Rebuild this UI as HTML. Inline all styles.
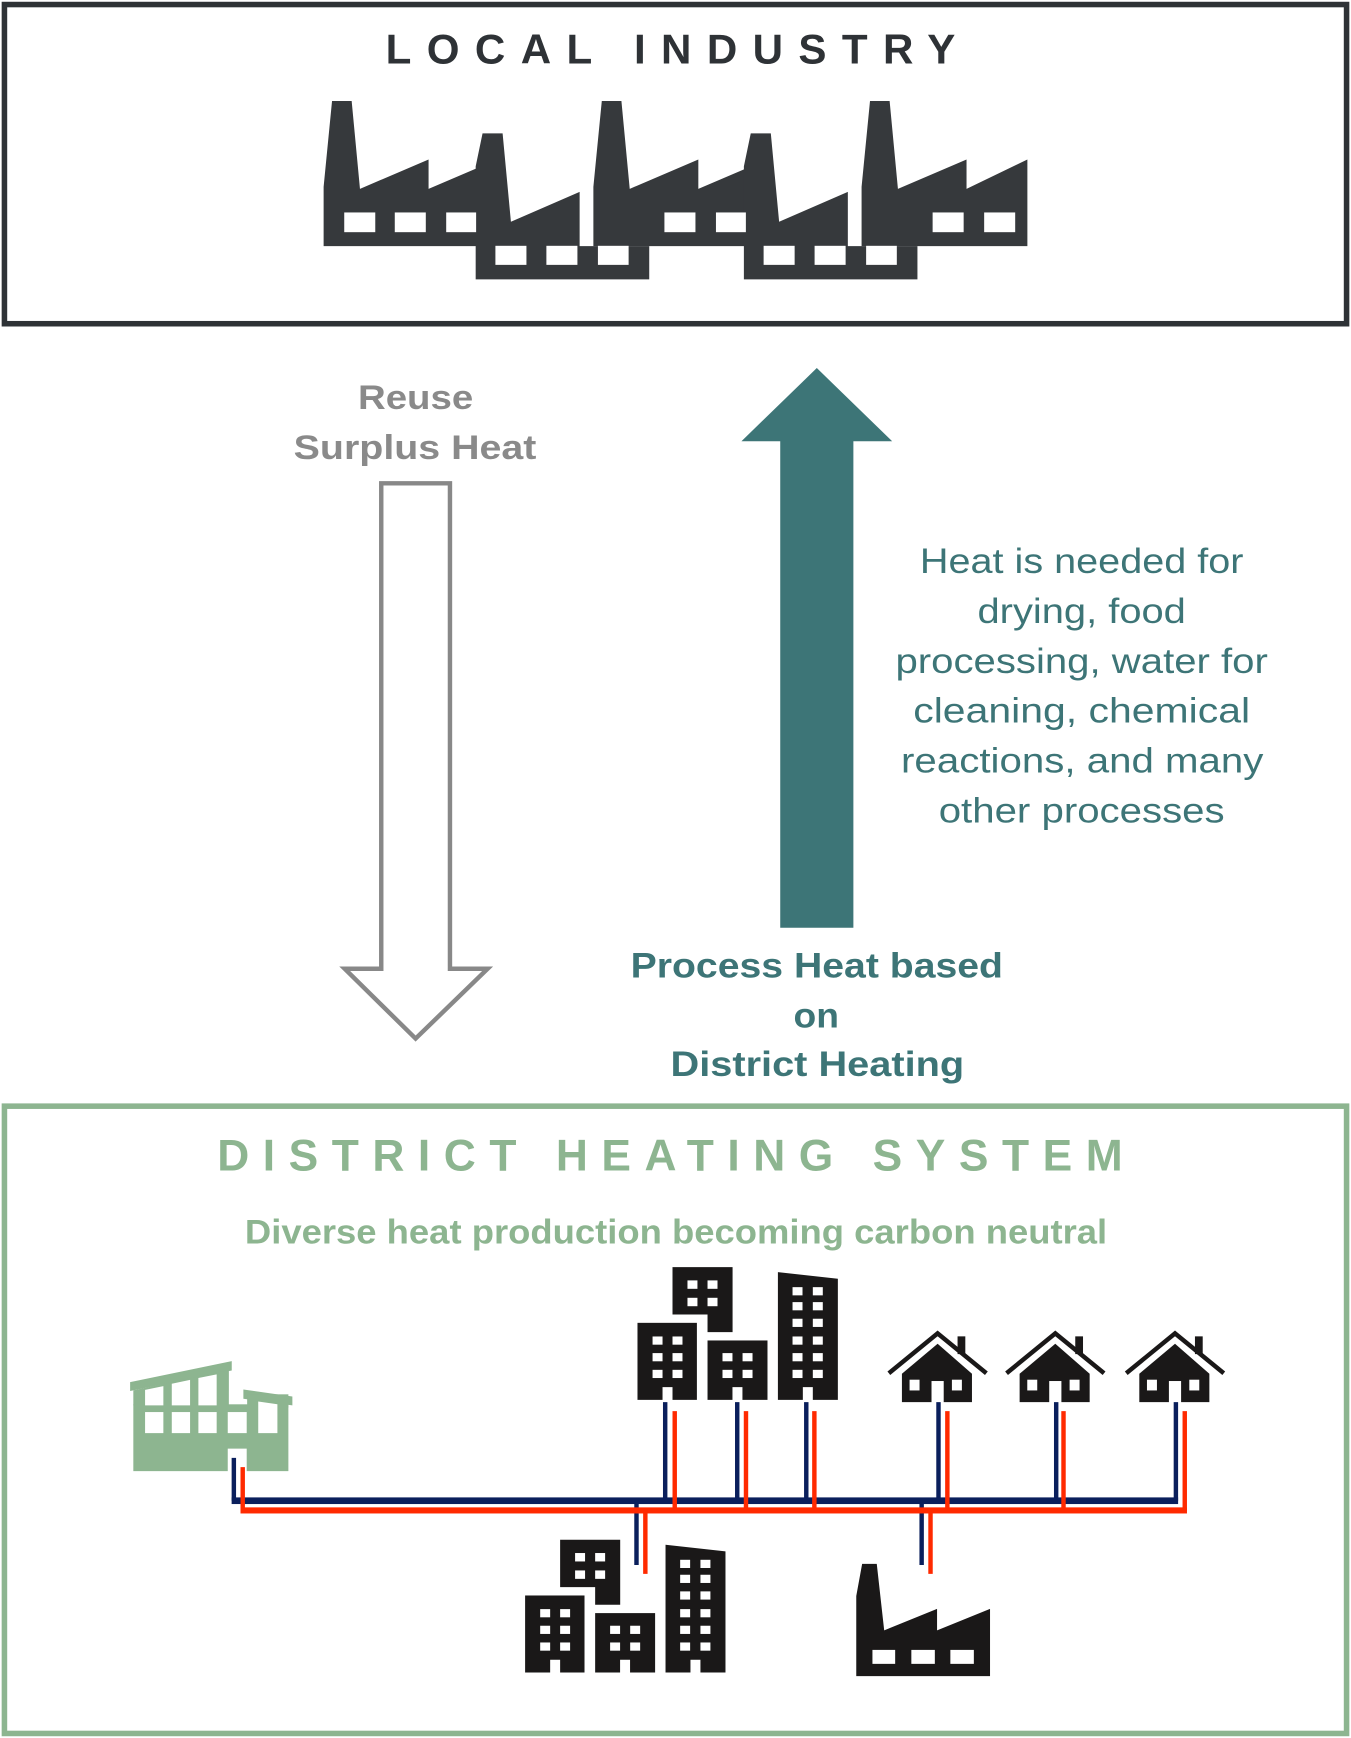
<!DOCTYPE html>
<html><head><meta charset="utf-8"><style>
html,body{margin:0;padding:0;background:#fff;}
svg{display:block;}
text{font-family:"Liberation Sans",sans-serif;}
</style></head><body>
<svg width="1351" height="1738" viewBox="0 0 1219 1568" xmlns="http://www.w3.org/2000/svg">
<rect x="0" y="0" width="1219" height="1568" fill="#fff"/>
<!-- top box -->
<rect x="4" y="4" width="1211" height="288" fill="none" stroke="#2e3236" stroke-width="5"/>
<text x="348" y="57" font-size="38" font-weight="bold" fill="#2e3236" textLength="514" lengthAdjust="spacing">LOCAL INDUSTRY</text>
<!-- factories -->
<g fill="#36393c">
<polygon points="292,222 292,168.5 299.6,91 317.3,91 324.8,170.3 386.7,143.8 386.7,170.3 448.7,143.8 448.7,222"/>
<polygon points="535.4,222 535.4,168.5 543,91 560.7,91 568.2,170.3 630.1,143.8 630.1,170.3 692.1,143.8 692.1,222"/>
<polygon points="777.4,222 777.4,168.5 785,91 802.7,91 810.2,170.3 872.1,143.8 872.1,170.3 927,143.8 927,222"/>
<polygon points="429.2,252 429.2,150 435.4,120.3 453.5,120.3 461,200 523,173 523,222 585.8,222 585.8,252"/>
<polygon points="671.2,252 671.2,150 677.4,120.3 695.5,120.3 703,200 765,173 765,222 827.8,222 827.8,252"/>
</g>
<g fill="#fff">
<rect x="310.6" y="191.6" width="28" height="17.8"/><rect x="356.2" y="191.6" width="28" height="17.8"/><rect x="402.6" y="191.6" width="27" height="17.8"/>
<rect x="599.5" y="191.6" width="28" height="17.8"/><rect x="646" y="191.6" width="27" height="17.8"/>
<rect x="841.5" y="191.6" width="28" height="17.8"/><rect x="888" y="191.6" width="28" height="17.8"/>
<rect x="447" y="221.7" width="28" height="17.2"/><rect x="493" y="221.7" width="28" height="17.2"/><rect x="539.5" y="221.7" width="27.7" height="17.2"/>
<rect x="689" y="221.7" width="28" height="17.2"/><rect x="735" y="221.7" width="28" height="17.2"/><rect x="781.5" y="221.7" width="27.7" height="17.2"/>
</g>
<!-- gray arrow -->
<text x="323" y="369" font-size="31" font-weight="bold" fill="#8a8a8a" textLength="104" lengthAdjust="spacingAndGlyphs">Reuse</text>
<text x="265" y="414" font-size="31" font-weight="bold" fill="#8a8a8a" textLength="219" lengthAdjust="spacingAndGlyphs">Surplus Heat</text>
<polygon points="344,436 406,436 406,874 440,874 375,937 311,874 344,874" fill="#fff" stroke="#888" stroke-width="4"/>
<!-- teal arrow -->
<polygon points="704,837 770,837 770,398 805,398 737,332 669,398 704,398" fill="#3d7577"/>
<g font-size="32" fill="#3d7577" lengthAdjust="spacingAndGlyphs">
<text x="830" y="517" textLength="292" lengthAdjust="spacingAndGlyphs">Heat is needed for</text>
<text x="882" y="562" textLength="188" lengthAdjust="spacingAndGlyphs">drying, food</text>
<text x="808" y="607" textLength="336" lengthAdjust="spacingAndGlyphs">processing, water for</text>
<text x="824" y="652" textLength="304" lengthAdjust="spacingAndGlyphs">cleaning, chemical</text>
<text x="813" y="697" textLength="327" lengthAdjust="spacingAndGlyphs">reactions, and many</text>
<text x="847" y="742" textLength="258" lengthAdjust="spacingAndGlyphs">other processes</text>
</g>
<g font-size="32" font-weight="bold" fill="#3d7577">
<text x="569" y="882" textLength="336" lengthAdjust="spacingAndGlyphs">Process Heat based</text>
<text x="716" y="927" textLength="41" lengthAdjust="spacingAndGlyphs">on</text>
<text x="605" y="971" textLength="265" lengthAdjust="spacingAndGlyphs">District Heating</text>
</g>
<!-- bottom box -->
<rect x="4" y="998" width="1211" height="566" fill="none" stroke="#8db590" stroke-width="5"/>
<text x="196" y="1056" font-size="40" font-weight="bold" fill="#8db590" textLength="817" lengthAdjust="spacing">DISTRICT HEATING SYSTEM</text>
<text x="610" y="1122" font-size="31" font-weight="bold" fill="#8db590" text-anchor="middle" textLength="778" lengthAdjust="spacingAndGlyphs">Diverse heat production becoming carbon neutral</text>
<!-- green plant -->
<g fill="#8db590">
<polygon points="117.4,1247 209.1,1228 209.1,1236.5 117.4,1255"/>
<polygon points="120.3,1254.4 206.5,1236 206.5,1268 120.3,1268"/>
<polygon points="219.6,1253.6 263.8,1260 263.8,1268 219.6,1262"/>
<rect x="223" y="1258" width="37.2" height="12"/>
<rect x="120.3" y="1267" width="139.9" height="60.3"/>
</g>
<g fill="#fff">
<polygon points="130.9,1254 147.4,1250.6 147.4,1268 130.9,1268"/>
<polygon points="155,1248.4 171.5,1245 171.5,1268 155,1268"/>
<polygon points="179,1243.3 195.5,1240 195.5,1268 179,1268"/>
<rect x="130.9" y="1274" width="16.5" height="19"/><rect x="155" y="1274" width="16.5" height="19"/>
<rect x="179" y="1274" width="16.5" height="19"/><rect x="205.5" y="1274" width="17.1" height="19"/>
<polygon points="233,1264.5 250.3,1267 250.3,1293 233,1293"/>
<rect x="205.5" y="1307" width="17.1" height="21"/>
</g>
<!-- buildings group -->
<g id="bld" fill="#1a1818">
<polygon points="606.8,1143.2 661,1143.2 661,1201.9 638.4,1201.9 638.4,1186 606.8,1186"/>
<rect x="575.2" y="1193.5" width="53.6" height="69.5"/>
<rect x="638.4" y="1209.4" width="54.1" height="53.6"/>
<polygon points="701.9,1147.7 756,1153.7 756,1263 701.9,1263"/>
<g fill="#fff">
<rect x="620.3" y="1155.2" width="9" height="7.6"/><rect x="638.4" y="1155.2" width="9" height="7.6"/>
<rect x="620.3" y="1170.9" width="9" height="7.6"/><rect x="638.4" y="1170.9" width="9" height="7.6"/>
<rect x="588.8" y="1205.8" width="9" height="7.4"/><rect x="606.8" y="1205.8" width="9" height="7.4"/>
<rect x="588.8" y="1220.8" width="9" height="7.4"/><rect x="606.8" y="1220.8" width="9" height="7.4"/>
<rect x="588.8" y="1235.9" width="9" height="7.4"/><rect x="606.8" y="1235.9" width="9" height="7.4"/>
<rect x="597.8" y="1251.5" width="9" height="12"/>
<rect x="651.9" y="1220.8" width="9" height="7.4"/><rect x="670" y="1220.8" width="9" height="7.4"/>
<rect x="651.9" y="1235.9" width="9" height="7.4"/><rect x="670" y="1235.9" width="9" height="7.4"/>
<rect x="660.9" y="1251.5" width="9" height="12"/>
<rect x="715.1" y="1161.3" width="9" height="7.4"/><rect x="733.4" y="1161.3" width="9" height="7.4"/>
<rect x="715.1" y="1174.8" width="9" height="7.4"/><rect x="733.4" y="1174.8" width="9" height="7.4"/>
<rect x="715.1" y="1189.8" width="9" height="7.4"/><rect x="733.4" y="1189.8" width="9" height="7.4"/>
<rect x="715.1" y="1205.8" width="9" height="7.4"/><rect x="733.4" y="1205.8" width="9" height="7.4"/>
<rect x="715.1" y="1220.8" width="9" height="7.4"/><rect x="733.4" y="1220.8" width="9" height="7.4"/>
<rect x="715.1" y="1235.9" width="9" height="7.4"/><rect x="733.4" y="1235.9" width="9" height="7.4"/>
<rect x="724.4" y="1251.5" width="9" height="12"/>
</g>
</g>
<g transform="translate(-101.4,246)">
<use href="#bld"/>
</g>
<!-- houses -->
<g id="house">
<polyline points="802,1239 846,1203 890,1239" fill="none" stroke="#1a1818" stroke-width="4"/>
<rect x="864" y="1205.7" width="7" height="16" fill="#1a1818"/>
<polygon points="846,1212.4 877,1239.4 877,1265 813.8,1265 813.8,1239.4" fill="#1a1818"/>
<rect x="820.7" y="1244.8" width="9" height="9.7" fill="#fff"/>
<rect x="858.9" y="1244.8" width="9" height="9.7" fill="#fff"/>
<rect x="840.5" y="1246" width="11" height="20" fill="#fff"/>
</g>
<use href="#house" transform="translate(106.2,0)"/>
<use href="#house" transform="translate(214.2,0)"/>
<!-- small factory -->
<polygon points="772.6,1512.3 772.6,1440 777.9,1411 791.1,1411 797.8,1471 845.5,1451.6 845.5,1471 893.3,1451.6 893.3,1512.3" fill="#1a1818"/>
<g fill="#fff">
<rect x="787.2" y="1488.6" width="20.5" height="12.6"/><rect x="822.3" y="1488.6" width="21.2" height="12.6"/><rect x="857.5" y="1488.6" width="21.2" height="12.6"/>
</g>
<!-- pipes -->
<g stroke="#0a1f5c" stroke-width="4" fill="none">
<line x1="211" y1="1315.3" x2="211" y2="1354"/>
<line x1="600.2" y1="1265" x2="600.2" y2="1354"/>
<line x1="665.2" y1="1265" x2="665.2" y2="1354"/>
<line x1="727.5" y1="1265" x2="727.5" y2="1354"/>
<line x1="846.8" y1="1265" x2="846.8" y2="1354"/>
<line x1="953" y1="1265" x2="953" y2="1354"/>
<line x1="1061" y1="1265" x2="1061" y2="1354"/>
<line x1="574.3" y1="1354" x2="574.3" y2="1412"/>
<line x1="831.6" y1="1354" x2="831.6" y2="1412"/>
</g>
<rect x="209" y="1351" width="854" height="6" fill="#0a1f5c"/>
<g stroke="#ff2a00" stroke-width="4" fill="none">
<line x1="219" y1="1323.7" x2="219" y2="1363"/>
<line x1="608.8" y1="1273.2" x2="608.8" y2="1363"/>
<line x1="673.1" y1="1273.2" x2="673.1" y2="1363"/>
<line x1="734.8" y1="1273.2" x2="734.8" y2="1363"/>
<line x1="854.8" y1="1273.2" x2="854.8" y2="1363"/>
<line x1="959.6" y1="1273.2" x2="959.6" y2="1363"/>
<line x1="1069" y1="1273.2" x2="1069" y2="1363"/>
<line x1="582.3" y1="1363" x2="582.3" y2="1420"/>
<line x1="839.6" y1="1363" x2="839.6" y2="1420"/>
</g>
<rect x="217" y="1360" width="854" height="5.5" fill="#ff2a00"/>
</svg>
</body></html>
